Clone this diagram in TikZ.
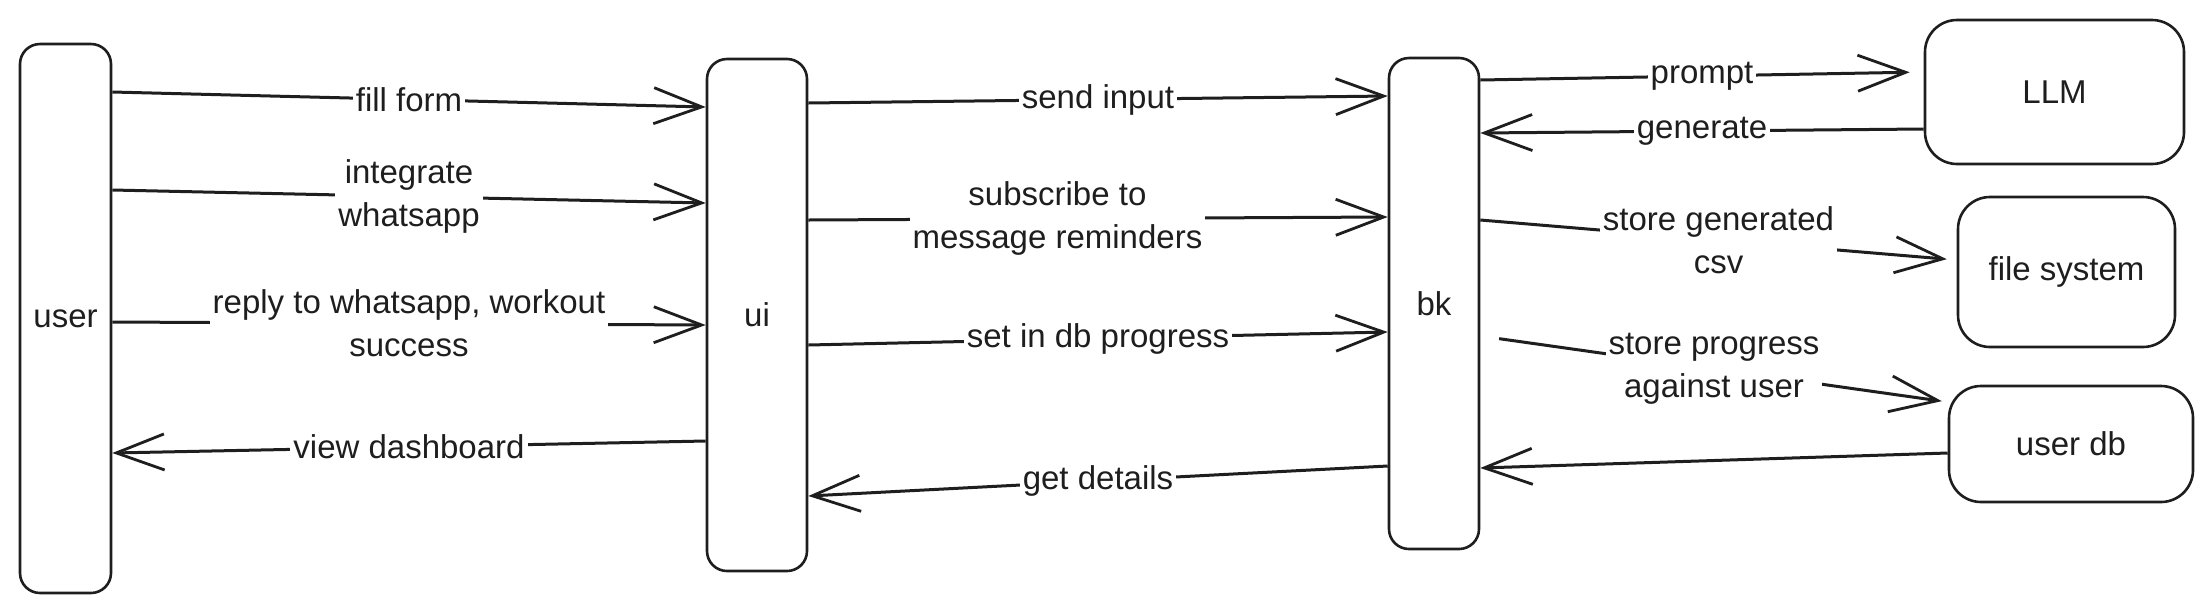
\documentclass[tikz,border=0pt]{standalone}
\usepackage{fontspec}
\setmainfont{Liberation Sans}
\usetikzlibrary{arrows.meta,calc}

\definecolor{ink}{HTML}{1E1E1E}

\tikzset{
  boxfont/.style={font=\fontsize{16.5}{21.5}\selectfont, text=ink},
  lane/.style={draw=ink, line width=1.3pt, rounded corners=10pt, inner sep=0pt, boxfont},
  store/.style={draw=ink, line width=1.3pt, rounded corners=16pt, inner sep=0pt, boxfont},
  msg/.style={draw=ink, line width=1.5pt, -{Straight Barb[length=24pt,width=18pt,line width=1.4pt]}},
  lbl/.style={fill=white, align=center, inner xsep=1.5pt, inner ysep=0pt, boxfont}
}

\begin{document}
\begin{tikzpicture}[x=0.5pt,y=-0.5pt]
  \useasboundingbox (0,0) rectangle (2212,612);

  % the three lanes
  \node[lane, minimum width=45.5pt, minimum height=274.5pt] (user) at (65.5,318.5) {user};
  \node[lane, minimum width=50pt, minimum height=256pt] (ui) at (757,315) {ui};
  \node[lane, minimum width=45pt, minimum height=245.5pt] (bk) at (1434,303.5) {bk};

  % services behind bk
  \node[store, minimum width=129.5pt, minimum height=72pt] (llm) at (2054.5,92) {LLM};
  \node[store, minimum width=108.5pt, minimum height=75pt] (fs) at (2066.5,272) {file system};
  \node[store, minimum width=122pt, minimum height=58pt] (udb) at (2071,444) {user db};

  % user <-> ui
  \draw[msg] (user.east |- 0,92) -- node[lbl] {fill form} (ui.west |- 0,107);
  \draw[msg] (user.east |- 0,190) -- node[lbl] {integrate\\whatsapp} (ui.west |- 0,203);
  \draw[msg] (user.east |- 0,322) -- node[lbl] {reply to whatsapp, workout\\success} (ui.west |- 0,325);
  \draw[msg] (ui.west |- 0,441) -- node[lbl] {view dashboard} (user.east |- 0,453);

  % ui <-> bk
  \draw[msg] (ui.east |- 0,103) -- node[lbl] {send input} (bk.west |- 0,96);
  \draw[msg] (ui.east |- 0,220) -- node[lbl, pos=0.43] {subscribe to\\message reminders} (bk.west |- 0,217);
  \draw[msg] (ui.east |- 0,345) -- node[lbl] {set in db progress} (bk.west |- 0,332);
  \draw[msg] (bk.west |- 0,466) -- node[lbl] {get details} (ui.east |- 0,496);

  % bk <-> services
  \draw[msg, shorten >=7pt] (bk.east |- 0,80) -- node[lbl] {prompt} (llm.west |- 0,72);
  \draw[msg] (llm.west |- 0,129) -- node[lbl] {generate} (bk.east |- 0,133);
  \draw[msg, shorten >=5pt] (bk.east |- 0,220) -- node[lbl] {store generated\\csv} (fs.west |- 0,260);
  \draw[msg, shorten <=9.5pt, shorten >=3pt] (bk.east |- 0,336) -- node[lbl] {store progress\\against user} (udb.west |- 0,402);
  \draw[msg] (udb.west |- 0,453) -- (bk.east |- 0,468);
\end{tikzpicture}
\end{document}
